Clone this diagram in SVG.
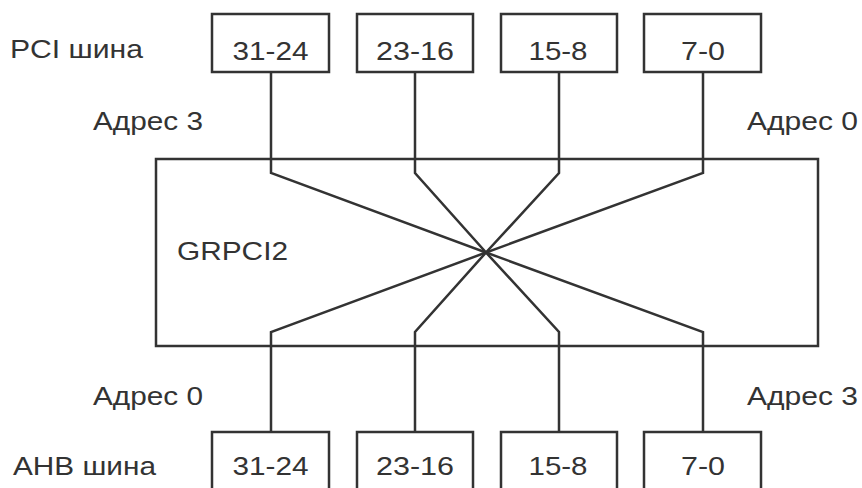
<svg xmlns="http://www.w3.org/2000/svg" width="862" height="488" viewBox="0 0 862 488">
<style>
.box{fill:#fff;stroke:#333;stroke-width:2.5}
.ln{fill:none;stroke:#333;stroke-width:2.5;stroke-linejoin:miter}
text{font-family:"Liberation Sans",Arial,sans-serif;font-size:26px;fill:#333}
.c{text-anchor:middle}
</style>
<rect width="862" height="488" fill="#fff"/>
<g id="grpci2">
<rect class="box" x="156" y="159" width="662" height="187"/>
<text x="177" y="260" textLength="111" lengthAdjust="spacingAndGlyphs">GRPCI2</text>
</g>
<g id="labels">
<text x="10" y="58" textLength="133" lengthAdjust="spacingAndGlyphs">PCI шина</text>
<text x="13" y="475" textLength="143" lengthAdjust="spacingAndGlyphs">AHB шина</text>
<text x="93" y="130" textLength="110" lengthAdjust="spacingAndGlyphs">Адрес 3</text>
<text x="747" y="130" textLength="111" lengthAdjust="spacingAndGlyphs">Адрес 0</text>
<text x="93" y="405" textLength="110" lengthAdjust="spacingAndGlyphs">Адрес 0</text>
<text x="747" y="405" textLength="111" lengthAdjust="spacingAndGlyphs">Адрес 3</text>
</g>
<g id="connectors">
<polyline class="ln" points="271,72 271,173 486,252.5 271,332 271,432"/>
<polyline class="ln" points="415,72 415,173 486,252.5 415,332 415,432"/>
<polyline class="ln" points="559,72 559,173 486,252.5 559,332 559,432"/>
<polyline class="ln" points="703,72 703,173 486,252.5 703,332 703,432"/>
</g>
<g id="pci-31-24"><rect class="box" x="212" y="14" width="117" height="58"/><text class="c" x="270.5" y="60" textLength="76" lengthAdjust="spacingAndGlyphs">31-24</text></g>
<g id="pci-23-16"><rect class="box" x="357" y="14" width="116" height="58"/><text class="c" x="415" y="60" textLength="78" lengthAdjust="spacingAndGlyphs">23-16</text></g>
<g id="pci-15-8"><rect class="box" x="501" y="14" width="116" height="58"/><text class="c" x="558" y="60" textLength="59" lengthAdjust="spacingAndGlyphs">15-8</text></g>
<g id="pci-7-0"><rect class="box" x="644" y="14" width="117" height="58"/><text class="c" x="703" y="60" textLength="44" lengthAdjust="spacingAndGlyphs">7-0</text></g>
<g id="ahb-31-24"><rect class="box" x="212" y="432" width="117" height="60"/><text class="c" x="270.5" y="475" textLength="76" lengthAdjust="spacingAndGlyphs">31-24</text></g>
<g id="ahb-23-16"><rect class="box" x="357" y="432" width="116" height="60"/><text class="c" x="415" y="475" textLength="78" lengthAdjust="spacingAndGlyphs">23-16</text></g>
<g id="ahb-15-8"><rect class="box" x="501" y="432" width="116" height="60"/><text class="c" x="558" y="475" textLength="59" lengthAdjust="spacingAndGlyphs">15-8</text></g>
<g id="ahb-7-0"><rect class="box" x="644" y="432" width="117" height="60"/><text class="c" x="703" y="475" textLength="44" lengthAdjust="spacingAndGlyphs">7-0</text></g>
</svg>
